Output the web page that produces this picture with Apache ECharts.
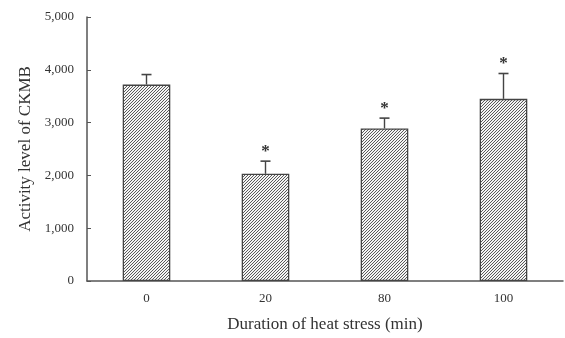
<!DOCTYPE html>
<html>
<head>
<meta charset="utf-8">
<script src="https://cdn.jsdelivr.net/npm/echarts@6/dist/echarts.min.js"></script>
<style>
  html, body { margin: 0; padding: 0; background: #fff; }
  #chart { width: 565px; height: 338px; }
</style>
</head>
<body>
<div id="chart"></div>
<script>
// data
const categories = ["0", "20", "80", "100"];
const activity = [3720, 2030, 2890, 3450];
const errors = [190, 240, 195, 480];
const significant = [false, true, true, true];

// diagonal hatch fill for the bars
const hatch = document.createElement("canvas");
hatch.width = 3;
hatch.height = 3;
const hctx = hatch.getContext("2d");
hctx.fillStyle = "#f4f4f4";
hctx.fillRect(0, 0, 3, 3);
hctx.strokeStyle = "#5a5a5a";
hctx.lineWidth = 1;
hctx.beginPath();
hctx.moveTo(-1, 4); hctx.lineTo(4, -1);
hctx.moveTo(-1, 1); hctx.lineTo(1, -1);
hctx.moveTo(2, 4); hctx.lineTo(4, 2);
hctx.stroke();

const font = "Liberation Serif";
const chart = echarts.init(document.getElementById("chart"));

const option = {
  animation: false,
  grid: { left: 87, right: 2, top: 17, bottom: 54 },
  xAxis: {
    type: "category",
    data: categories,
    name: "Duration of heat stress (min)",
    nameLocation: "middle",
    nameGap: 35,
    nameTextStyle: { fontFamily: font, fontSize: 17, color: "#333" },
    axisLine: { lineStyle: { color: "#555", width: 1.5 } },
    axisTick: { inside: true, length: 4, lineStyle: { color: "#555" } },
    axisLabel: { fontFamily: font, fontSize: 13, color: "#333", margin: 11 },
  },
  yAxis: {
    type: "value",
    min: 0,
    max: 5000,
    interval: 1000,
    name: "Activity level of CKMB",
    nameLocation: "middle",
    nameGap: 52,
    nameTextStyle: { fontFamily: font, fontSize: 17, color: "#333" },
    splitLine: { show: false },
    axisLine: { show: true, lineStyle: { color: "#555", width: 1.5 } },
    axisTick: { show: true, inside: true, length: 4, lineStyle: { color: "#555" } },
    axisLabel: {
      fontFamily: font,
      fontSize: 13,
      color: "#333",
      margin: 13,
      formatter: (v) => v.toLocaleString("en-US"),
    },
  },
  series: [
    {
      type: "bar",
      data: activity,
      barWidth: "40%",
      itemStyle: {
        color: { image: hatch, repeat: "repeat" },
        borderColor: "#444",
        borderWidth: 1.3,
      },
    },
    {
      type: "custom",
      data: activity.map((v, i) => [i, v, errors[i], significant[i] ? 1 : 0]),
      renderItem: (params, api) => {
        const top = api.coord([api.value(0), api.value(1) + api.value(2)]);
        const base = api.coord([api.value(0), api.value(1)]);
        const children = [
          {
            type: "line",
            shape: { x1: base[0], y1: base[1], x2: top[0], y2: top[1] },
            style: { stroke: "#444", lineWidth: 1.4 },
          },
          {
            type: "line",
            shape: { x1: top[0] - 5, y1: top[1], x2: top[0] + 5, y2: top[1] },
            style: { stroke: "#444", lineWidth: 1.6 },
          },
        ];
        if (api.value(3)) {
          children.push({
            type: "text",
            style: {
              text: "*",
              x: top[0],
              y: top[1] - 1,
              fill: "#333",
              font: "bold 17px " + font,
              align: "center",
              verticalAlign: "bottom",
            },
          });
        }
        return { type: "group", children: children };
      },
      z: 5,
    },
  ],
};

chart.setOption(option);
</script>
</body>
</html>
